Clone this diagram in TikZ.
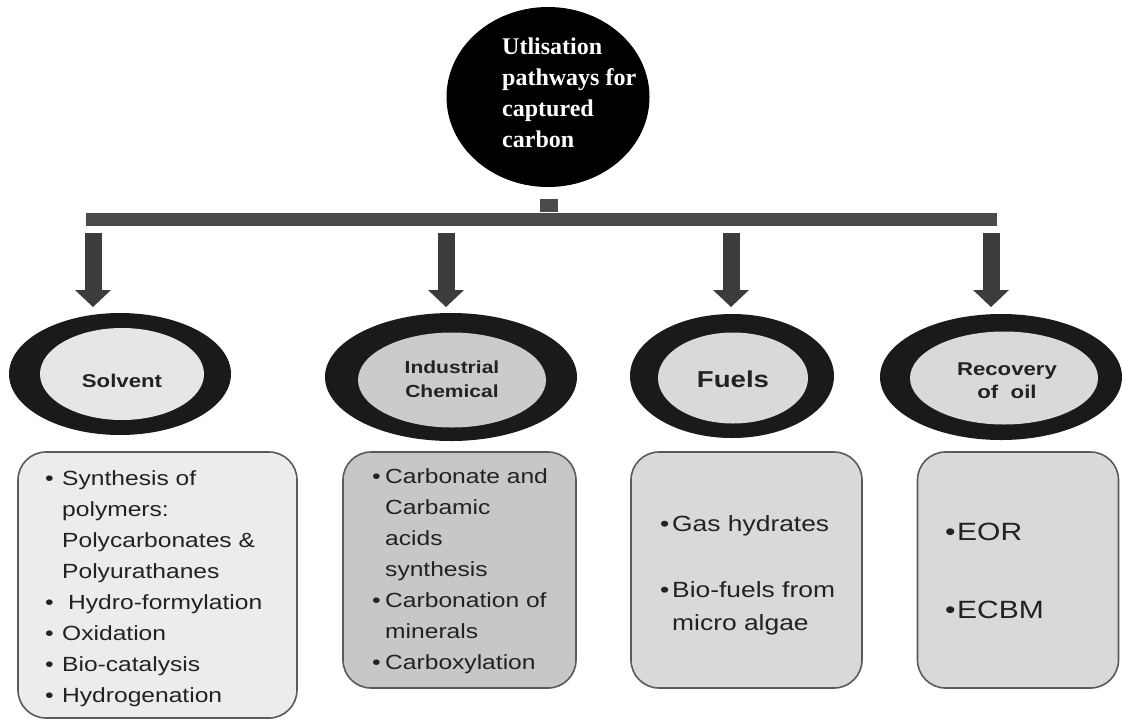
\documentclass[tikz,border=0pt]{standalone}
\usepackage{fontspec}
\setmainfont{Liberation Sans}
\newfontfamily\bxfont[FakeStretch=1.2]{Liberation Sans}
\newfontfamily\topfont{Liberation Serif}
\usetikzlibrary{shapes.geometric,arrows.meta,calc}
\definecolor{barc}{HTML}{4A4A4A}
\definecolor{arrowc}{HTML}{3C3C3C}
\definecolor{ringc}{HTML}{1A1A1A}
\definecolor{cardline}{HTML}{5A5A5A}
\definecolor{txtc}{HTML}{222222}
\definecolor{fillA}{HTML}{ECECEC}
\definecolor{fillB}{HTML}{C7C7C7}
\definecolor{fillC}{HTML}{D9D9D9}
\definecolor{coreA}{HTML}{E6E6E6}
\definecolor{coreB}{HTML}{CBCBCB}
\definecolor{coreC}{HTML}{D9D9D9}
\begin{document}
\begin{tikzpicture}[x=1pt,y=-1pt,
  ring/.style={ellipse, fill=ringc, draw=none, inner sep=0},
  core/.style={ellipse, draw=none, inner sep=0},
  card/.style={rectangle, rounded corners=28pt, draw=cardline, line width=1.6pt, inner sep=0},
  bigarrow/.style={draw=arrowc, line width=17pt,
    -{Triangle[width=36pt 0 0, length=17pt 0 0, line width=0pt 0 0, fill=arrowc]}},
  stemline/.style={draw=barc, line width=18pt},
  tline/.style={anchor=base west, inner sep=0, text=white, font=\topfont\bfseries\fontsize{24}{28}\selectfont},
  bline/.style={anchor=base west, inner sep=0, text=txtc, font=\bxfont\fontsize{20.5}{24}\selectfont},
  fline/.style={anchor=base west, inner sep=0, text=txtc, font=\bxfont\fontsize{22}{26}\selectfont},
  rline/.style={anchor=base west, inner sep=0, text=txtc, font=\bxfont\fontsize{25}{29}\selectfont},
  elab/.style={anchor=base, inner sep=0, text=txtc, font=\bxfont\bfseries},
]
\useasboundingbox (0,0) rectangle (1122,721);
\fill[white] (0,0) rectangle (1122,721);

% top circle
\node[ellipse, fill=black, minimum width=203pt, minimum height=180pt, inner sep=0] (top) at (548,97) {};
\node[tline] (tt1) at (502,54) {Utlisation};
\node[tline] (tt2) at (502,85) {pathways for};
\node[tline] (tt3) at (502,116) {captured};
\node[tline] (tt4) at (502,147) {carbon};

% bar
\node[rectangle, fill=barc, minimum width=911pt, minimum height=13pt, inner sep=0] (bar) at (541.5,219) {};
\draw[stemline] ($(top.south)+(1,12)$) -- (bar.north -| 549,0);

% ellipses
\node[ring, minimum width=222pt, minimum height=122pt] (sol) at (120,374) {};
\node[core, fill=coreA, minimum width=164pt, minimum height=92pt] (solc) at (122,374) {};
\node[elab, font=\bxfont\bfseries\fontsize{18.5}{22}\selectfont] (soll) at (122,387) {Solvent};

\node[ring, minimum width=252pt, minimum height=128pt] (ind) at (451,377) {};
\node[core, fill=coreB, minimum width=188pt, minimum height=95pt] (indc) at (452,380) {};
\node[elab, font=\bxfont\bfseries\fontsize{17.5}{21}\selectfont] (indl1) at (452,373) {Industrial};
\node[elab, font=\bxfont\bfseries\fontsize{17.5}{21}\selectfont] (indl2) at (452,397) {Chemical};

\node[ring, minimum width=204pt, minimum height=124pt] (fue) at (732,376) {};
\node[core, fill=coreC, minimum width=150pt, minimum height=91pt] (fuec) at (733,378) {};
\node[elab, font=\bxfont\bfseries\fontsize{23}{27}\selectfont] (fuel) at (733,387) {Fuels};

\node[ring, minimum width=242pt, minimum height=126pt] (rec) at (1001,377) {};
\node[core, fill=coreC, minimum width=188pt, minimum height=93pt] (recc) at (1004,378) {};
\node[elab, font=\bxfont\bfseries\fontsize{18.5}{22}\selectfont] (recl1) at (1007,375) {Recovery};
\node[elab, font=\bxfont\bfseries\fontsize{18.5}{22}\selectfont] (recl2) at (1007,398) {of\ \ oil};

% arrows
\coordinate (a1) at (93,307);
\coordinate (a2) at (446,307);
\coordinate (a3) at (731,307);
\coordinate (a4) at (991,307);
\draw[bigarrow] ($(bar.south -| a1)+(0,7)$) -- (a1);
\draw[bigarrow] ($(bar.south -| a2)+(0,7)$) -- (a2);
\draw[bigarrow] ($(bar.south -| a3)+(0,7)$) -- (a3);
\draw[bigarrow] ($(bar.south -| a4)+(0,7)$) -- (a4);

% cards
\node[card, fill=fillA, minimum width=279pt, minimum height=266pt] (sbox) at (157.5,585) {};
\node[card, fill=fillB, minimum width=233pt, minimum height=236pt] (ibox) at (459.5,570) {};
\node[card, fill=fillC, minimum width=231pt, minimum height=236pt] (fbox) at (746.5,570) {};
\node[card, fill=fillC, minimum width=201pt, minimum height=236pt] (rbox) at (1018,570) {};

% solvent card text
\node[bline] (sl1) at (45,485) {\makebox[17pt][l]{•}Synthesis of};
\node[bline] (sl2) at (62,516) {polymers:};
\node[bline] (sl3) at (62,547) {Polycarbonates \&};
\node[bline] (sl4) at (62,578) {Polyurathanes};
\node[bline] (sl5) at (45,609) {\makebox[23pt][l]{•}Hydro-formylation};
\node[bline] (sl6) at (45,640) {\makebox[17pt][l]{•}Oxidation};
\node[bline] (sl7) at (45,671) {\makebox[17pt][l]{•}Bio-catalysis};
\node[bline] (sl8) at (45,702) {\makebox[17pt][l]{•}Hydrogenation};

% industrial card text
\node[bline] (il1) at (372,483) {\makebox[13pt][l]{•}Carbonate and};
\node[bline] (il2) at (385,514) {Carbamic};
\node[bline] (il3) at (385,545) {acids};
\node[bline] (il4) at (385,576) {synthesis};
\node[bline] (il5) at (372,607) {\makebox[13pt][l]{•}Carbonation of};
\node[bline] (il6) at (385,638) {minerals};
\node[bline] (il7) at (372,669) {\makebox[13pt][l]{•}Carboxylation};

% fuels card text
\node[fline] (fl1) at (660,531) {\makebox[12pt][l]{•}Gas hydrates};
\node[fline] (fl2) at (660,597) {\makebox[12pt][l]{•}Bio-fuels from};
\node[fline] (fl3) at (672,630) {micro algae};

% recovery card text
\node[rline] (rl1) at (945,540) {\makebox[12pt][l]{•}EOR};
\node[rline] (rl2) at (945,618) {\makebox[12pt][l]{•}ECBM};
\end{tikzpicture}
\end{document}
